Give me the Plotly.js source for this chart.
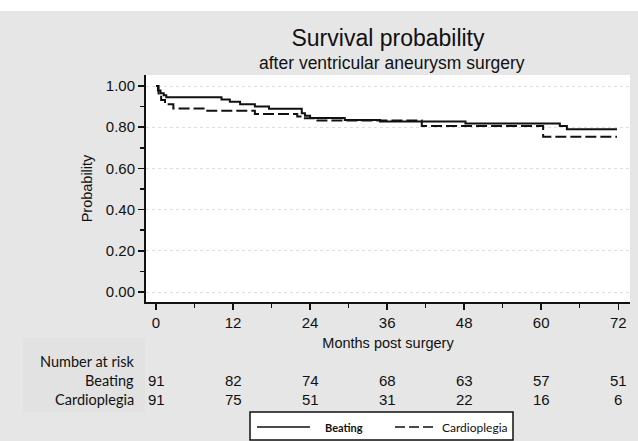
<!DOCTYPE html>
<html>
<head>
<meta charset="utf-8">
<script src="https://cdn.plot.ly/plotly-3.0.1.min.js"></script>
<style>html,body{margin:0;padding:0;background:#e6e6e6;}#chart{width:638px;height:441px;}</style>
</head>
<body>
<div id="chart"></div>
<script>
// Kaplan-Meier step data
const beatTime = [0, 0.3, 0.7, 1.2, 1.6, 10.2, 11.5, 13.1, 15.4, 17.6, 22.7, 23.2, 24.0, 29.4, 34.9, 48.2, 62.9, 64.0, 71.8];
const beatSurv = [1.0, 0.978, 0.965, 0.955, 0.945, 0.934, 0.923, 0.911, 0.900, 0.889, 0.868, 0.856, 0.845, 0.835, 0.828, 0.818, 0.806, 0.790, 0.790];
const cardTime = [0, 0.4, 0.8, 1.4, 2.7, 7.6, 15.4, 22.0, 22.5, 24.8, 41.4, 60.3, 71.8];
const cardSurv = [1.0, 0.956, 0.932, 0.911, 0.891, 0.880, 0.864, 0.852, 0.844, 0.832, 0.806, 0.754, 0.754];

// Number at risk table
const riskTimes = [0, 12, 24, 36, 48, 60, 72];
const riskBeating = [91, 82, 74, 68, 63, 57, 51];
const riskCardio = [91, 75, 51, 31, 22, 16, 6];
const seriesNames = ['Beating', 'Cardioplegia'];

const yTickVals = [0, 0.2, 0.4, 0.6, 0.8, 1.0];
const yTickText = ['0.00', '0.20', '0.40', '0.60', '0.80', '1.00'];

const arial = 'Liberation Sans, Arial, sans-serif';
const cal = 'Lato, Open Sans, sans-serif';

const traces = [
  {x: beatTime, y: beatSurv, name: seriesNames[0], type: 'scatter', mode: 'lines',
   line: {shape: 'hv', color: '#111', width: 2}},
  {x: cardTime, y: cardSurv, name: seriesNames[1], type: 'scatter', mode: 'lines',
   line: {shape: 'hv', color: '#111', width: 2, dash: '11px,4px'}}
];

// paper coordinate helpers (plot area: x 146..630 px, y 75..302 px)
const L = 146, R = 8, T = 75, B = 139, W = 638, H = 441;
const pw = W - L - R, ph = H - T - B;
const px = v => (v - L) / pw;
const py = v => (H - B - v) / ph;

const annotations = [];
annotations.push({text: 'after ventricular aneurysm surgery', xref: 'paper', yref: 'paper',
  x: px(392), y: py(63), xanchor: 'center', yanchor: 'middle', showarrow: false,
  font: {family: arial, size: 17.5, color: '#111'}});
annotations.push({text: 'Number at risk', xref: 'paper', yref: 'paper', x: px(136), y: py(361),
  xanchor: 'right', yanchor: 'middle', showarrow: false, font: {family: cal, size: 14.5, color: '#111'}});
const rowY = [py(380), py(399)];
const rowVals = [riskBeating, riskCardio];
seriesNames.forEach((n, i) => {
  annotations.push({text: n, xref: 'paper', yref: 'paper', x: px(136), y: rowY[i],
    xanchor: 'right', yanchor: 'middle', showarrow: false, font: {family: cal, size: 14.5, color: '#111'}});
  riskTimes.forEach((t, j) => {
    annotations.push({text: String(rowVals[i][j]), xref: 'x', yref: 'paper', x: t, y: rowY[i],
      xanchor: 'center', yanchor: 'middle', showarrow: false, font: {family: arial, size: 15, color: '#111'}});
  });
});
// legend texts
annotations.push({text: '<b>' + seriesNames[0] + '</b>', xref: 'paper', yref: 'paper', x: px(344), y: py(427),
  xanchor: 'center', yanchor: 'middle', showarrow: false, font: {family: cal, size: 11, color: '#111'}});
annotations.push({text: seriesNames[1], xref: 'paper', yref: 'paper', x: px(440), y: py(427),
  xanchor: 'left', yanchor: 'middle', showarrow: false, font: {family: cal, size: 12, color: '#111'}});

const shapes = [
  {type: 'rect', xref: 'paper', yref: 'paper', x0: px(-10), x1: px(700), y0: py(11), y1: py(-10),
   fillcolor: '#ffffff', line: {width: 0}, layer: 'below'},
  {type: 'rect', xref: 'paper', yref: 'paper', x0: px(23), x1: px(145), y0: py(338), y1: py(412),
   fillcolor: '#e2e2e2', line: {width: 0}, layer: 'below'},
  {type: 'rect', xref: 'paper', yref: 'paper', x0: px(250), x1: px(513), y0: py(412), y1: py(440),
   fillcolor: '#ffffff', line: {width: 1.5, color: '#111'}, layer: 'above'},
  {type: 'line', xref: 'paper', yref: 'paper', x0: px(257), x1: px(310), y0: py(427), y1: py(427),
   line: {width: 1.5, color: '#111'}},
  {type: 'line', xref: 'paper', yref: 'paper', x0: px(395), x1: px(435), y0: py(427), y1: py(427),
   line: {width: 1.5, color: '#111', dash: '10px,4px'}}
];

const layout = {
  width: W, height: H,
  margin: {l: L, r: R, t: T, b: B, pad: 0},
  paper_bgcolor: '#e6e6e6',
  plot_bgcolor: '#ffffff',
  showlegend: false,
  title: {text: 'Survival probability', x: 388 / W, xanchor: 'center',
    y: 1 - 38 / H, yanchor: 'middle', font: {family: arial, size: 23, color: '#111'}},
  xaxis: {
    range: [-1.56, 73.83], tickvals: riskTimes, ticktext: riskTimes.map(String),
    showgrid: false, zeroline: false, showline: true, linecolor: '#111', linewidth: 2,
    ticks: 'outside', ticklen: 6, tickwidth: 1.5, tickcolor: '#111',
    minor: {dtick: 6, tick0: 0, ticks: 'outside', ticklen: 4, tickwidth: 1.5, tickcolor: '#111', showgrid: false},
    tickfont: {family: arial, size: 15, color: '#111'},
    title: {text: 'Months post surgery', standoff: 8, font: {family: arial, size: 14.5, color: '#111'}}
  },
  yaxis: {
    range: [-0.0485, 1.0534], tickvals: yTickVals, ticktext: yTickText,
    showgrid: true, gridcolor: '#dedede', griddash: 'dot', gridwidth: 1,
    zeroline: false, showline: true, linecolor: '#111', linewidth: 2,
    ticks: 'outside', ticklen: 6, tickwidth: 1.5, tickcolor: '#111',
    minor: {dtick: 0.1, tick0: 0, ticks: 'outside', ticklen: 4, tickwidth: 1.5, tickcolor: '#111', showgrid: false},
    tickfont: {family: arial, size: 15, color: '#111'},
    title: {text: 'Probability', standoff: 10, font: {family: arial, size: 14.5, color: '#111'}}
  },
  annotations: annotations,
  shapes: shapes
};

Plotly.newPlot('chart', traces, layout, {displayModeBar: false, staticPlot: true});
</script>
</body>
</html>
